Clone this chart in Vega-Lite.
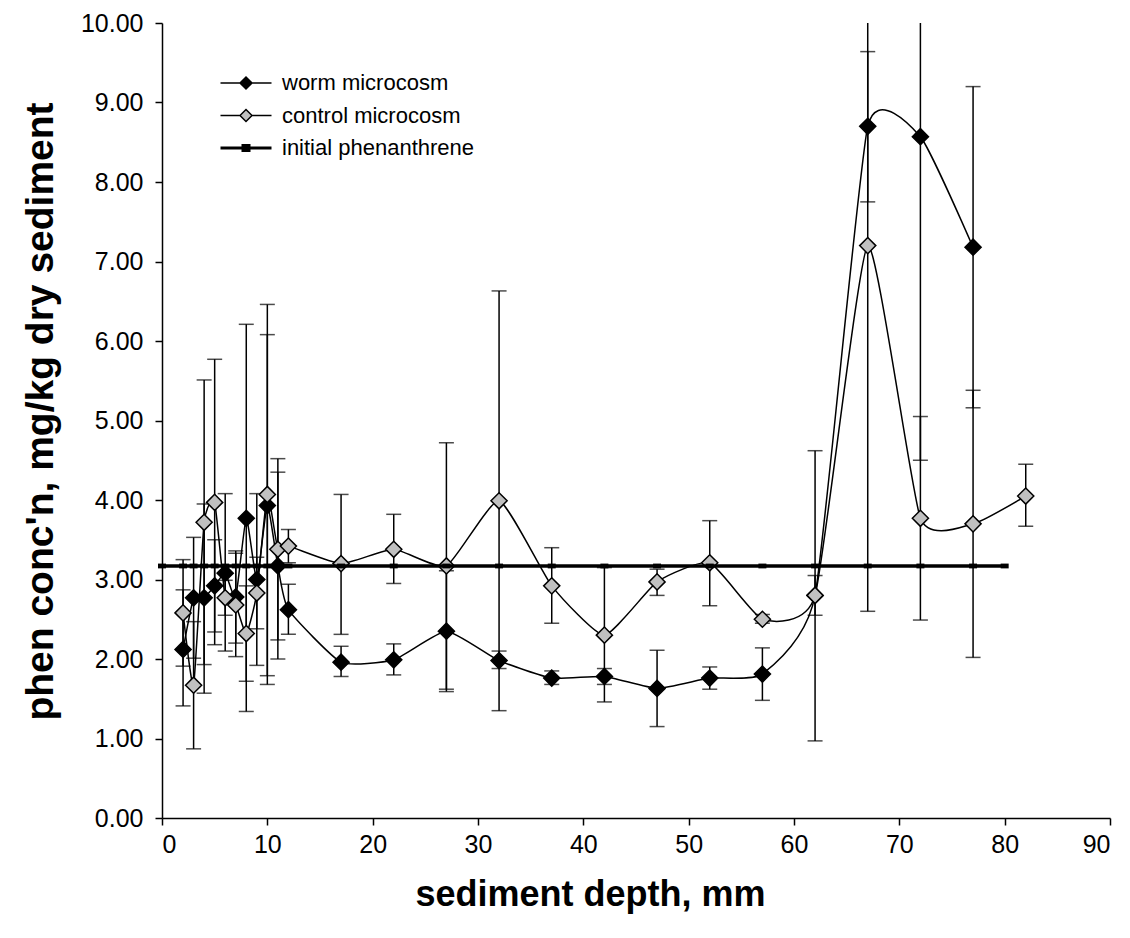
{
  "$schema": "https://vega.github.io/schema/vega-lite/v6.json",
  "width": 948,
  "height": 795,
  "autosize": {"type": "none"},
  "padding": {"left": 162, "top": 23, "right": 20, "bottom": 120},
  "background": "white",
  "config": {
    "view": {"stroke": null},
    "axis": {
      "domainColor": "black", "tickColor": "black", "labelColor": "black", "titleColor": "black",
      "labelFont": "Liberation Sans", "titleFont": "Liberation Sans", "grid": false,
      "labelFontSize": 25, "tickSize": 7, "domainWidth": 1.5, "tickWidth": 1.5,
      "titleFontWeight": "bold"
    }
  },
  "data": {
    "values": [
      {"depth": 2, "series": "worm microcosm", "conc": 2.12, "lo": 1.41, "hi": 2.87},
      {"depth": 3, "series": "worm microcosm", "conc": 2.77, "lo": 2.01, "hi": 3.53},
      {"depth": 4, "series": "worm microcosm", "conc": 2.77, "lo": 1.57, "hi": 3.95},
      {"depth": 5, "series": "worm microcosm", "conc": 2.92, "lo": 2.34, "hi": 3.50},
      {"depth": 6, "series": "worm microcosm", "conc": 3.08, "lo": 2.10, "hi": 4.08},
      {"depth": 7, "series": "worm microcosm", "conc": 2.78, "lo": 2.20, "hi": 3.36},
      {"depth": 8, "series": "worm microcosm", "conc": 3.77, "lo": 1.34, "hi": 6.21},
      {"depth": 9, "series": "worm microcosm", "conc": 3.00, "lo": 1.92, "hi": 4.08},
      {"depth": 10, "series": "worm microcosm", "conc": 3.93, "lo": 1.79, "hi": 6.08},
      {"depth": 11, "series": "worm microcosm", "conc": 3.17, "lo": 2.00, "hi": 4.35},
      {"depth": 12, "series": "worm microcosm", "conc": 2.62, "lo": 2.31, "hi": 2.94},
      {"depth": 17, "series": "worm microcosm", "conc": 1.96, "lo": 1.78, "hi": 2.16},
      {"depth": 22, "series": "worm microcosm", "conc": 1.99, "lo": 1.80, "hi": 2.19},
      {"depth": 27, "series": "worm microcosm", "conc": 2.35, "lo": 1.59, "hi": 3.11},
      {"depth": 32, "series": "worm microcosm", "conc": 1.98, "lo": 1.88, "hi": 2.10},
      {"depth": 37, "series": "worm microcosm", "conc": 1.76, "lo": 1.68, "hi": 1.85},
      {"depth": 42, "series": "worm microcosm", "conc": 1.78, "lo": 1.68, "hi": 1.88},
      {"depth": 47, "series": "worm microcosm", "conc": 1.63, "lo": 1.15, "hi": 2.11},
      {"depth": 52, "series": "worm microcosm", "conc": 1.76, "lo": 1.62, "hi": 1.90},
      {"depth": 57, "series": "worm microcosm", "conc": 1.81, "lo": 1.48, "hi": 2.14},
      {"depth": 62, "series": "worm microcosm", "conc": 2.80, "lo": 2.55, "hi": 3.05},
      {"depth": 67, "series": "worm microcosm", "conc": 8.70, "lo": 7.75, "hi": 9.64},
      {"depth": 72, "series": "worm microcosm", "conc": 8.57, "lo": 4.50, "hi": 12.64},
      {"depth": 77, "series": "worm microcosm", "conc": 7.18, "lo": 5.16, "hi": 9.20},
      {"depth": 2, "series": "control microcosm", "conc": 2.58, "lo": 1.91, "hi": 3.25},
      {"depth": 3, "series": "control microcosm", "conc": 1.67, "lo": 0.87, "hi": 2.47},
      {"depth": 4, "series": "control microcosm", "conc": 3.72, "lo": 1.93, "hi": 5.51},
      {"depth": 5, "series": "control microcosm", "conc": 3.97, "lo": 2.18, "hi": 5.77},
      {"depth": 6, "series": "control microcosm", "conc": 2.77, "lo": 2.55, "hi": 2.99},
      {"depth": 7, "series": "control microcosm", "conc": 2.68, "lo": 2.03, "hi": 3.33},
      {"depth": 8, "series": "control microcosm", "conc": 2.32, "lo": 1.72, "hi": 2.92},
      {"depth": 9, "series": "control microcosm", "conc": 2.83, "lo": 2.38, "hi": 3.28},
      {"depth": 10, "series": "control microcosm", "conc": 4.07, "lo": 1.68, "hi": 6.46},
      {"depth": 11, "series": "control microcosm", "conc": 3.38, "lo": 2.24, "hi": 4.52},
      {"depth": 12, "series": "control microcosm", "conc": 3.42, "lo": 3.21, "hi": 3.63},
      {"depth": 17, "series": "control microcosm", "conc": 3.20, "lo": 2.31, "hi": 4.07},
      {"depth": 22, "series": "control microcosm", "conc": 3.38, "lo": 2.95, "hi": 3.82},
      {"depth": 27, "series": "control microcosm", "conc": 3.17, "lo": 1.62, "hi": 4.72},
      {"depth": 32, "series": "control microcosm", "conc": 3.99, "lo": 1.35, "hi": 6.63},
      {"depth": 37, "series": "control microcosm", "conc": 2.92, "lo": 2.45, "hi": 3.40},
      {"depth": 42, "series": "control microcosm", "conc": 2.30, "lo": 1.46, "hi": 3.15},
      {"depth": 47, "series": "control microcosm", "conc": 2.97, "lo": 2.80, "hi": 3.13},
      {"depth": 52, "series": "control microcosm", "conc": 3.21, "lo": 2.67, "hi": 3.74},
      {"depth": 57, "series": "control microcosm", "conc": 2.50, "lo": 2.45, "hi": 2.56},
      {"depth": 62, "series": "control microcosm", "conc": 2.80, "lo": 0.97, "hi": 4.62},
      {"depth": 67, "series": "control microcosm", "conc": 7.20, "lo": 2.60, "hi": 11.80},
      {"depth": 72, "series": "control microcosm", "conc": 3.77, "lo": 2.49, "hi": 5.05},
      {"depth": 77, "series": "control microcosm", "conc": 3.70, "lo": 2.02, "hi": 5.38},
      {"depth": 82, "series": "control microcosm", "conc": 4.05, "lo": 3.67, "hi": 4.45},
      {"depth": 0, "series": "initial phenanthrene", "conc": 3.17},
      {"depth": 2, "series": "initial phenanthrene", "conc": 3.17},
      {"depth": 3, "series": "initial phenanthrene", "conc": 3.17},
      {"depth": 4, "series": "initial phenanthrene", "conc": 3.17},
      {"depth": 5, "series": "initial phenanthrene", "conc": 3.17},
      {"depth": 6, "series": "initial phenanthrene", "conc": 3.17},
      {"depth": 7, "series": "initial phenanthrene", "conc": 3.17},
      {"depth": 8, "series": "initial phenanthrene", "conc": 3.17},
      {"depth": 9, "series": "initial phenanthrene", "conc": 3.17},
      {"depth": 10, "series": "initial phenanthrene", "conc": 3.17},
      {"depth": 11, "series": "initial phenanthrene", "conc": 3.17},
      {"depth": 12, "series": "initial phenanthrene", "conc": 3.17},
      {"depth": 17, "series": "initial phenanthrene", "conc": 3.17},
      {"depth": 22, "series": "initial phenanthrene", "conc": 3.17},
      {"depth": 27, "series": "initial phenanthrene", "conc": 3.17},
      {"depth": 32, "series": "initial phenanthrene", "conc": 3.17},
      {"depth": 37, "series": "initial phenanthrene", "conc": 3.17},
      {"depth": 42, "series": "initial phenanthrene", "conc": 3.17},
      {"depth": 47, "series": "initial phenanthrene", "conc": 3.17},
      {"depth": 52, "series": "initial phenanthrene", "conc": 3.17},
      {"depth": 57, "series": "initial phenanthrene", "conc": 3.17},
      {"depth": 62, "series": "initial phenanthrene", "conc": 3.17},
      {"depth": 67, "series": "initial phenanthrene", "conc": 3.17},
      {"depth": 72, "series": "initial phenanthrene", "conc": 3.17},
      {"depth": 77, "series": "initial phenanthrene", "conc": 3.17},
      {"depth": 80, "series": "initial phenanthrene", "conc": 3.17}
    ]
  },
  "encoding": {
    "x": {
      "field": "depth", "type": "quantitative",
      "scale": {"domain": [0, 90], "nice": false, "zero": false},
      "axis": {"values": [0, 10, 20, 30, 40, 50, 60, 70, 80, 90], "title": "sediment depth, mm", "titleFontSize": 36, "labelPadding": 7, "titlePadding": 20, "titleX": 428}
    },
    "y": {
      "field": "conc", "type": "quantitative",
      "scale": {"domain": [0, 10], "nice": false},
      "axis": {"values": [0, 1, 2, 3, 4, 5, 6, 7, 8, 9, 10], "format": ".2f", "title": "phen conc'n, mg/kg dry sediment", "titleFontSize": 39, "labelPadding": 12, "titlePadding": 20, "titleY": 388}
    }
  },
  "layer": [
    {
      "transform": [{"filter": "datum.series !== 'initial phenanthrene'"}],
      "mark": {"type": "rule", "color": "black", "strokeWidth": 1.5, "clip": true},
      "encoding": {"y": {"field": "lo", "type": "quantitative"}, "y2": {"field": "hi"}}
    },
    {
      "transform": [{"filter": "datum.series !== 'initial phenanthrene'"}],
      "mark": {"type": "tick", "orient": "horizontal", "color": "black", "size": 15, "thickness": 1.5, "clip": true},
      "encoding": {"y": {"field": "lo", "type": "quantitative"}}
    },
    {
      "transform": [{"filter": "datum.series !== 'initial phenanthrene'"}],
      "mark": {"type": "tick", "orient": "horizontal", "color": "black", "size": 15, "thickness": 1.5, "clip": true},
      "encoding": {"y": {"field": "hi", "type": "quantitative"}}
    },
    {
      "transform": [{"filter": "datum.series !== 'initial phenanthrene'"}],
      "mark": {"type": "line", "interpolate": "cardinal", "tension": 0.5, "color": "black", "strokeWidth": 1.5, "clip": true},
      "encoding": {"detail": {"field": "series"}}
    },
    {
      "transform": [{"filter": "datum.series !== 'initial phenanthrene'"}],
      "mark": {"type": "point", "shape": "diamond", "filled": true, "size": 260, "stroke": "black", "strokeWidth": 1.5, "opacity": 1},
      "encoding": {
        "fill": {
          "field": "series", "type": "nominal",
          "scale": {"domain": ["worm microcosm", "control microcosm", "initial phenanthrene"], "range": ["black", "#c0c0c0", "black"]},
          "legend": {
            "orient": "none", "legendX": 73, "legendY": 49, "title": null,
            "labelFont": "Liberation Sans", "labelFontSize": 22, "labelColor": "black", "labelLimit": 0,
            "symbolSize": 400, "labelOffset": 25, "rowPadding": 10.5,
            "symbolStrokeColor": "black", "symbolOpacity": 1,
            "encode": {
              "symbols": {
                "update": {
                  "shape": {"signal": "datum.value === 'initial phenanthrene' ? 'M-2.55,0H2.55M-0.3,-0.25H0.3V0.25H-0.3Z' : 'M-2.55,0H-0.6M0.6,0H2.55M-0.6,0L0,-0.6L0.6,0L0,0.6Z'"},
                  "strokeWidth": {"signal": "datum.value === 'initial phenanthrene' ? 3 : 1.5"},
                  "stroke": {"value": "black"},
                  "size": {"value": 400}
                }
              }
            }
          }
        }
      }
    },
    {
      "transform": [{"filter": "datum.series === 'initial phenanthrene'"}],
      "mark": {"type": "line", "color": "black", "strokeWidth": 3.5}
    },
    {
      "transform": [{"filter": "datum.series === 'initial phenanthrene'"}],
      "mark": {"type": "point", "shape": "M-1,-0.6H1V0.6H-1Z", "filled": true, "size": 64, "color": "black", "opacity": 1}
    }
  ]
}
